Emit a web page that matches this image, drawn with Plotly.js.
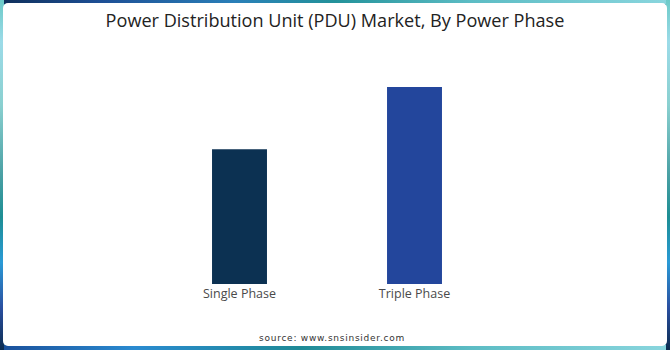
<!DOCTYPE html>
<html>
<head>
<meta charset="utf-8">
<script src="https://cdn.plot.ly/plotly-3.0.1.min.js"></script>
<style>
  html, body { margin: 0; padding: 0; width: 670px; height: 350px; overflow: hidden; background: #1f7f95; }
  .edge { position: absolute; }
  #top { left: 0; top: 0; width: 670px; height: 4px; background: linear-gradient(to right, #0f2f5a 0%, #1d4f95 15%, #2a7fb8 35%, #23929a 50%, #5cbcc4 70%, #8ad6de 100%); }
  #bottom { left: 0; bottom: 0; width: 670px; height: 5px; background: linear-gradient(to right, #1a4f9a 0%, #2a8ad0 20%, #1f8a96 45%, #5cbcc4 70%, #8ad6de 100%); }
  #left { left: 0; top: 0; width: 4px; height: 350px; background: linear-gradient(to bottom, #6ccac8 0%, #9cdbe8 12%, #8ad0d0 30%, #4aa0a4 50%, #1d8e94 62%, #2a9ad6 75%, #2a4fa0 88%, #0c2c50 100%); }
  #right { right: 0; top: 0; width: 4px; height: 350px; background: linear-gradient(to bottom, #6ccac8 0%, #9cdbe8 12%, #8ad0d0 30%, #4aa0a4 50%, #1d8e94 62%, #2a9ad6 75%, #2a4fa0 88%, #0c2c50 100%); }
  #panel { position: absolute; left: 3px; top: 3px; width: 664px; height: 343px; background: #ffffff; border-radius: 5px; }
  #chart { position: absolute; left: 0; top: 0; width: 670px; height: 350px; }
  .annotation-text { letter-spacing: 0.75px; }
</style>
</head>
<body>
<div class="edge" id="top"></div>
<div class="edge" id="bottom"></div>
<div class="edge" id="left"></div>
<div class="edge" id="right"></div>
<div id="panel"></div>
<div id="chart"></div>
<script>
const categories = ["Single Phase", "Triple Phase"];
const values = [41, 60];
const barColors = ["#0c3152", "#23469c"];
const titleText = "Power Distribution Unit (PDU) Market, By Power Phase";
const sourceText = "source: www.snsinsider.com";

const trace = {
  type: "bar",
  x: categories,
  y: values,
  marker: { color: barColors, line: { width: 0 } },
  hoverinfo: "skip"
};

const layout = {
  width: 670,
  height: 350,
  paper_bgcolor: "rgba(0,0,0,0)",
  plot_bgcolor: "rgba(0,0,0,0)",
  margin: { l: 152, r: 168, t: 60, b: 66 },
  bargap: 0.686,
  showlegend: false,
  title: {
    text: titleText,
    font: { family: "Open Sans, Noto Sans, sans-serif", size: 18.1, color: "#222222" },
    x: 0.5, xref: "container", xanchor: "center", y: 0.94, yref: "container", yanchor: "middle"
  },
  xaxis: {
    type: "category",
    range: [-0.5, 1.5],
    showgrid: false, zeroline: false, showline: false, ticks: "",
    tickfont: { family: "Open Sans, Noto Sans, sans-serif", size: 12.5, color: "#4a4a4a" },
    fixedrange: true
  },
  yaxis: {
    range: [0, 68.2],
    visible: false,
    showgrid: false, zeroline: false,
    fixedrange: true
  },
  annotations: [{
    text: sourceText,
    xref: "paper", yref: "paper",
    x: 0.5, y: -0.24, xanchor: "center", yanchor: "middle",
    showarrow: false,
    xshift: 5,
    font: { family: "DejaVu Sans, sans-serif", size: 9, color: "#333333" }
  }]
};

Plotly.newPlot("chart", [trace], layout, { displayModeBar: false, staticPlot: true });
</script>
</body>
</html>
